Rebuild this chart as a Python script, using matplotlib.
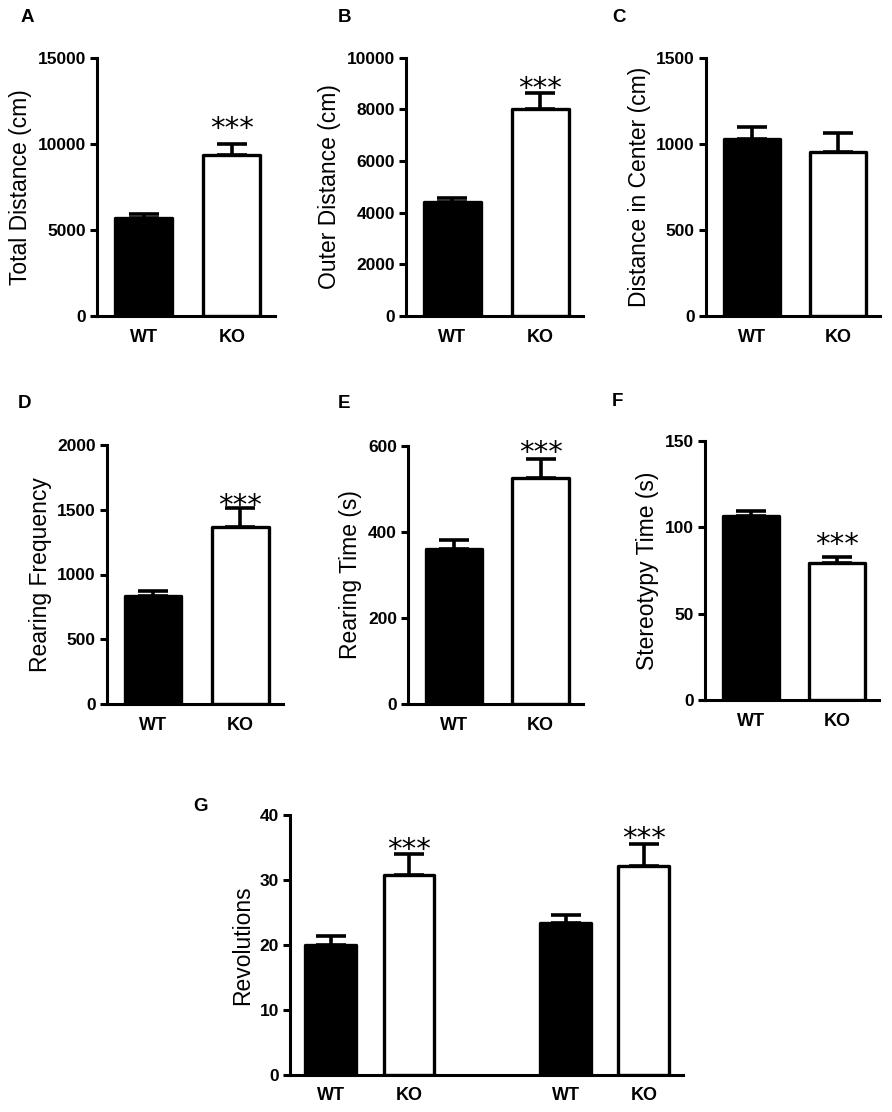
import matplotlib
matplotlib.use("Agg")
import matplotlib.pyplot as plt
import numpy as np

plt.rcParams['font.family'] = ['Liberation Sans', 'DejaVu Sans']

# ---------------- data ----------------
groups = ["WT", "KO"]

total_mean = [5720, 9380]
total_err = [230, 600]

outer_mean = [4420, 8010]
outer_err = [150, 630]

center_mean = [1030, 955]
center_err = [65, 110]

rearfreq_mean = [832, 1370]
rearfreq_err = [43, 141]

reartime_mean = [361, 524]
reartime_err = [21, 45]

stereo_mean = [106.5, 79.3]
stereo_err = [3.0, 3.5]

rev_groups = ["WT", "KO", "WT", "KO"]
rev_mean = [20.0, 30.8, 23.4, 32.2]
rev_err = [1.4, 3.2, 1.2, 3.3]

A_ticks = [0, 5000, 10000, 15000]
B_ticks = [0, 2000, 4000, 6000, 8000, 10000]
C_ticks = [0, 500, 1000, 1500]
D_ticks = [0, 500, 1000, 1500, 2000]
E_ticks = [0, 200, 400, 600]
F_ticks = [0, 50, 100, 150]
G_ticks = [0, 10, 20, 30, 40]

# significance marks ("***") per bar: height in data units, None = no mark
A_sig = [None, 11300]
B_sig = [None, 9060]
C_sig = [None, None]
D_sig = [None, 1583]
E_sig = [None, 601]
F_sig = [None, 93.7]
G_sig = [None, 35.8, None, 37.4]

# ---------------- style ----------------
W, H = 892, 1112
fig = plt.figure(figsize=(W / 100, H / 100), dpi=100)
LW = 2.4
FILL = {"WT": "black", "KO": "white"}


def px_axes(l, t, r, b):
    return fig.add_axes([l / W, 1 - b / H, (r - l) / W, (b - t) / H])


def panel(rect, xpos, labels, means, errs, ticks, ylabel, sig, xlim):
    ax = px_axes(*rect)
    colors = [FILL[g] for g in labels]
    ax.bar(xpos, means, width=0.65, color=colors, edgecolor="black",
           linewidth=LW, joinstyle="round", zorder=2)
    for x, m, e in zip(xpos, means, errs):
        ax.errorbar([x], [m], yerr=[[0], [e]], fmt="none", ecolor="black",
                    elinewidth=2.6, capsize=10.5, capthick=2.6, zorder=3)
    for x, s in zip(xpos, sig):
        if s is not None:
            # glyph centre sits ~11pt above the baseline
            ax.annotate("***", xy=(x, s), xytext=(0, -11),
                        textcoords="offset points", ha="center",
                        va="baseline", fontsize=21, family="DejaVu Sans")
    ax.set_ylim(0, ticks[-1])
    ax.set_xlim(*xlim)
    ax.set_yticks(ticks)
    ax.set_yticklabels([str(t) for t in ticks], fontsize=12.5,
                       fontweight="bold")
    ax.set_xticks(xpos)
    ax.set_xticklabels(labels, fontsize=13, fontweight="bold")
    ax.tick_params(axis="x", length=0, pad=9)
    ax.tick_params(axis="y", length=5, width=2.2, pad=3, direction="out")
    for side in ("top", "right"):
        ax.spines[side].set_visible(False)
    for side in ("left", "bottom"):
        ax.spines[side].set_linewidth(2.2)
        ax.spines[side].set_capstyle("projecting")
    ax.set_ylabel(ylabel, fontsize=16.5, labelpad=4)
    return ax


x2 = np.arange(len(groups))
xl = (-0.53, 1.49)

panel((97, 58, 275, 316), x2, groups, total_mean, total_err, A_ticks,
      "Total Distance (cm)", A_sig, xl)
panel((406, 57.7, 583, 316), x2, groups, outer_mean, outer_err, B_ticks,
      "Outer Distance (cm)", B_sig, xl)
panel((706, 57.7, 880, 316), x2, groups, center_mean, center_err, C_ticks,
      "Distance in Center (cm)", C_sig, xl)
panel((107, 445, 283, 704), x2, groups, rearfreq_mean, rearfreq_err, D_ticks,
      "Rearing Frequency", D_sig, xl)
panel((408, 445.7, 583, 704), x2, groups, reartime_mean, reartime_err, E_ticks,
      "Rearing Time (s)", E_sig, xl)
panel((705, 440.7, 879, 700), x2, groups, stereo_mean, stereo_err, F_ticks,
      "Stereotypy Time (s)", F_sig, xl)

xg = np.array([0, 1, 3, 4])
panel((290, 815, 683, 1075), xg, rev_groups, rev_mean, rev_err, G_ticks,
      "Revolutions", G_sig, (-0.52, 4.5))

# panel letters
letters = [("A", 21, 9), ("B", 338, 9), ("C", 612, 9),
           ("D", 18, 395), ("E", 338, 395), ("F", 612, 393),
           ("G", 193, 798)]
for s, lx, ly in letters:
    fig.text(lx / W, 1 - ly / H, s, fontsize=13.5, fontweight="bold",
             ha="left", va="top")

fig.savefig("out.png", dpi=100)
